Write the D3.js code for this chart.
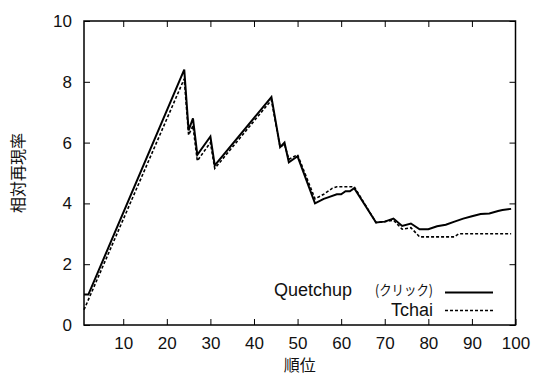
<!DOCTYPE html>
<html>
<head>
<meta charset="utf-8">
<script src="https://cdn.jsdelivr.net/npm/d3@7"></script>
<style>
	body { margin: 0; background: #fff; }
	svg { display: block; font-family: 'Noto Sans CJK JP', 'Noto Sans', sans-serif; }
	.axis path, .axis line { stroke: #000; }
	.axis text { fill: #111; font-size: 17px; }
</style>
</head>
<body>
<div id="chart"></div>
<script>
// 順位 / 相対再現率
const quetchupRank = [1, 2, 24, 25, 26, 27, 30, 31, 44, 46, 47, 48, 50, 54, 56, 57, 59, 60, 61, 62, 63, 68, 70, 72, 74, 76, 78, 80, 82, 84, 86, 88, 90, 92, 94, 96, 97, 99]
const quetchupRecall = [1.0, 1.0, 8.4, 6.4, 6.8, 5.6, 6.2, 5.25, 7.5, 5.85, 6.0, 5.35, 5.55, 4.0, 4.15, 4.2, 4.3, 4.3, 4.4, 4.4, 4.5, 3.37, 3.4, 3.5, 3.26, 3.34, 3.15, 3.15, 3.25, 3.3, 3.4, 3.5, 3.58, 3.65, 3.67, 3.75, 3.78, 3.82]

const tchaiRank = [1, 24, 25, 26, 27, 30, 31, 44, 46, 47, 48, 50, 54, 56, 58, 59, 63, 68, 70, 72, 74, 76, 78, 86, 87, 99]
const tchaiRecall = [0.5, 8.1, 6.25, 6.55, 5.4, 6.0, 5.15, 7.4, 5.85, 5.95, 5.45, 5.6, 4.15, 4.3, 4.5, 4.55, 4.55, 3.37, 3.4, 3.45, 3.15, 3.2, 2.9, 2.9, 3.0, 3.0]

const xTicks = [10, 20, 30, 40, 50, 60, 70, 80, 90, 100]
const yTicks = [0, 2, 4, 6, 8, 10]

const width = 541
const height = 376
const TICK = 6

const svg = d3.select('#chart').append('svg').attr('width', width).attr('height', height)

const x = d3.scaleLinear().domain([1, 100]).range([84, 515.5])
const y = d3.scaleLinear().domain([0, 10]).range([325, 21])

// bottom axis with labels
svg.append('g')
	.attr('class', 'axis')
	.attr('transform', `translate(0,${y(0)})`)
	.call(d3.axisBottom(x).tickValues(xTicks).tickSize(-TICK).tickPadding(12).tickFormat(d3.format('d')))
	.call(g => g.select('.domain').remove())

// top mirror ticks
svg.append('g')
	.attr('class', 'axis')
	.attr('transform', `translate(0,${y(10)})`)
	.call(d3.axisTop(x).tickValues(xTicks.slice(0, -1)).tickSize(-TICK).tickFormat(''))
	.call(g => g.select('.domain').remove())

// left axis with labels
svg.append('g')
	.attr('class', 'axis')
	.attr('transform', `translate(${x(1)},0)`)
	.call(d3.axisLeft(y).tickValues(yTicks).tickSize(-TICK).tickPadding(12))
	.call(g => g.select('.domain').remove())

// right mirror ticks
svg.append('g')
	.attr('class', 'axis')
	.attr('transform', `translate(${x(100)},0)`)
	.call(d3.axisRight(y).tickValues(yTicks).tickSize(-TICK).tickFormat(''))
	.call(g => g.select('.domain').remove())

// frame
svg.append('rect')
	.attr('x', x(1))
	.attr('y', y(10))
	.attr('width', x(100) - x(1))
	.attr('height', y(0) - y(10))
	.attr('fill', 'none')
	.attr('stroke', '#000')
	.attr('stroke-width', 1.5)

// axis titles
svg.append('text')
	.attr('x', (x(1) + x(100)) / 2)
	.attr('y', 367)
	.attr('text-anchor', 'middle')
	.attr('dominant-baseline', 'middle')
	.attr('font-size', 16)
	.attr('fill', '#111')
	.text('順位')

svg.append('text')
	.attr('transform', `translate(20,${(y(0) + y(10)) / 2}) rotate(-90)`)
	.attr('text-anchor', 'middle')
	.attr('dominant-baseline', 'middle')
	.attr('font-size', 16)
	.attr('fill', '#111')
	.text('相対再現率')

// lines
const line = d3.line().x(d => x(d[0])).y(d => y(d[1]))

const content = svg.append('g').attr('id', 'content')

content.append('path')
	.datum(d3.zip(tchaiRank, tchaiRecall))
	.attr('d', line)
	.attr('fill', 'none')
	.attr('stroke', '#000')
	.attr('stroke-width', 1.6)
	.attr('stroke-dasharray', '3,2')

content.append('path')
	.datum(d3.zip(quetchupRank, quetchupRecall))
	.attr('d', line)
	.attr('fill', 'none')
	.attr('stroke', '#000')
	.attr('stroke-width', 2)

// legend
const legend = svg.append('g').attr('id', 'legend').attr('fill', '#111')
const ROW1 = 291
const ROW2 = 311.5
const LATIN = "'Liberation Sans', Arial, sans-serif"

legend.append('text').attr('x', 352).attr('y', ROW1).attr('text-anchor', 'end').attr('dominant-baseline', 'middle')
	.attr('font-family', LATIN).attr('font-size', 18).text('Quetchup')
legend.append('text').attr('x', 433).attr('y', ROW1).attr('text-anchor', 'end').attr('dominant-baseline', 'middle')
	.attr('font-size', 14).attr('textLength', 58).attr('lengthAdjust', 'spacingAndGlyphs').text('(クリック)')
legend.append('text').attr('x', 433).attr('y', ROW2).attr('text-anchor', 'end').attr('dominant-baseline', 'middle')
	.attr('font-family', LATIN).attr('font-size', 18).text('Tchai')

legend.append('line').attr('x1', 445).attr('x2', 493).attr('y1', ROW1 + 1.5).attr('y2', ROW1 + 1.5)
	.attr('stroke', '#000').attr('stroke-width', 2)
legend.append('line').attr('x1', 445).attr('x2', 493).attr('y1', ROW2 - 1).attr('y2', ROW2 - 1)
	.attr('stroke', '#000').attr('stroke-width', 1.6).attr('stroke-dasharray', '3,2')
</script>
</body>
</html>
